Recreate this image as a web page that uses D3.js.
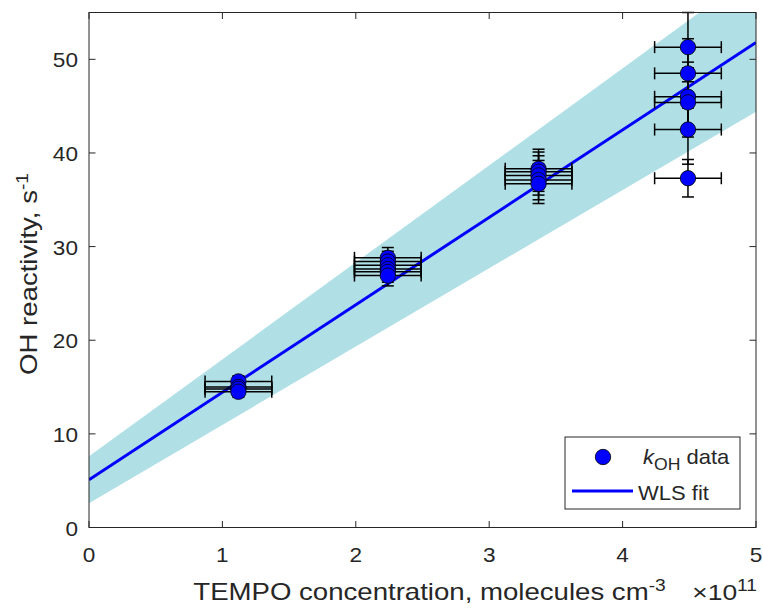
<!DOCTYPE html>
<html><head><meta charset="utf-8">
<script src="https://cdn.jsdelivr.net/npm/d3@7"></script>
<style>body{margin:0;background:#fff}svg{display:block}text{font-family:"Liberation Sans",Arial,sans-serif;fill:#262626}</style>
</head><body><svg id="c" width="763" height="609"></svg>
<script>
// data (x in units of 1e11 molecules cm^-3, y in s^-1)
const dataX    = [1.12,1.12,1.12,1.12, 2.24,2.24,2.24,2.24,2.24,2.24, 3.37,3.37,3.37,3.37,3.37, 4.49,4.49,4.49,4.49,4.49,4.49];
const dataY    = [15.6,15.0,14.8,14.5, 28.8,28.4,28.0,27.6,27.3,26.9, 38.3,38.0,37.6,37.1,36.7, 51.3,48.5,46.0,45.4,42.5,37.3];
const dataYErr = [0.6,0.6,0.6,0.6, 1.1,1.1,1.1,1.1,1.1,1.1, 2.1,2.1,2.1,2.1,2.1, 3.7,3.7,3.7,3.7,3.7,2.0];
const dataXErr = [0.25,0.25,0.25,0.25, 0.25,0.25,0.25,0.25,0.25,0.25, 0.25,0.25,0.25,0.25,0.25, 0.25,0.25,0.25,0.25,0.25,0.25];
const fitX = [0, 5];
const fitY = [5.1, 51.8];
const bandX = [0, 5];
const bandUpper = [7.6, 59.4];
const bandLower = [2.6, 44.4];
const xTicks = [0,1,2,3,4,5];
const yTicks = [0,10,20,30,40,50];

const svg = d3.select("#c");
const L=89, R=756, T=12.5, B=527.5;
const x = d3.scaleLinear().domain([0,5]).range([L,R]);
const y = d3.scaleLinear().domain([0,55]).range([B,T]);

const defs = svg.append("defs");
defs.append("clipPath").attr("id","clip").append("rect").attr("x",L).attr("y",T).attr("width",R-L).attr("height",B-T);

const g = svg.append("g").attr("clip-path","url(#clip)");
const band = bandX.map((v,i)=>({x:v,u:bandUpper[i],l:bandLower[i]}));
g.append("path").datum(band)
  .attr("d", d3.area().x(d=>x(d.x)).y0(d=>y(d.l)).y1(d=>y(d.u)))
  .attr("fill","#b0e0e6");
g.append("path").datum(fitX.map((v,i)=>[v,fitY[i]]))
  .attr("d", d3.line().x(d=>x(d[0])).y(d=>y(d[1])))
  .attr("stroke","#0000ff").attr("stroke-width",3).attr("fill","none");

// error bars
const pts = dataX.map((v,i)=>({x:v,y:dataY[i],ye:dataYErr[i],xe:dataXErr[i]}));
const eb = svg.append("g").attr("stroke","#000").attr("stroke-width",1.5).attr("fill","none");
const cap = 6;
pts.forEach(p=>{
  const cx=x(p.x), cy=y(p.y);
  const y1=y(p.y+p.ye), y2=y(p.y-p.ye);
  const x1=x(p.x-p.xe), x2=x(p.x+p.xe);
  eb.append("line").attr("x1",cx).attr("x2",cx).attr("y1",y1).attr("y2",y2);
  eb.append("line").attr("x1",cx-cap).attr("x2",cx+cap).attr("y1",y1).attr("y2",y1);
  eb.append("line").attr("x1",cx-cap).attr("x2",cx+cap).attr("y1",y2).attr("y2",y2);
  eb.append("line").attr("x1",x1).attr("x2",x2).attr("y1",cy).attr("y2",cy);
  eb.append("line").attr("x1",x1).attr("x2",x1).attr("y1",cy-cap).attr("y2",cy+cap);
  eb.append("line").attr("x1",x2).attr("x2",x2).attr("y1",cy-cap).attr("y2",cy+cap);
});
svg.append("g").selectAll("circle").data(pts).join("circle")
  .attr("cx",d=>x(d.x)).attr("cy",d=>y(d.y)).attr("r",7.7)
  .attr("fill","#0000ff").attr("stroke","#000").attr("stroke-width",0.8);

// axes
const ax = svg.append("g").attr("stroke","#262626").attr("stroke-width",1).attr("fill","none");
ax.append("rect").attr("x",L).attr("y",T).attr("width",R-L).attr("height",B-T);
const tl=6.5;
xTicks.forEach(t=>{
  ax.append("line").attr("x1",x(t)).attr("x2",x(t)).attr("y1",B).attr("y2",B-tl);
  ax.append("line").attr("x1",x(t)).attr("x2",x(t)).attr("y1",T).attr("y2",T+tl);
});
yTicks.forEach(t=>{
  ax.append("line").attr("x1",L).attr("x2",L+tl).attr("y1",y(t)).attr("y2",y(t));
  ax.append("line").attr("x1",R).attr("x2",R-tl).attr("y1",y(t)).attr("y2",y(t));
});
const TS=1.13, LS=1.2;
svg.append("g").selectAll("text").data(xTicks).join("text")
  .attr("transform",d=>`translate(${x(d)},562) scale(${TS},1)`).attr("text-anchor","middle").attr("font-size",20).text(d=>d);
svg.append("g").selectAll("text").data(yTicks).join("text")
  .attr("transform",d=>`translate(78,${y(d)+8}) scale(${TS},1)`).attr("text-anchor","end").attr("font-size",20).text(d=>d);

// axis labels
const xl = svg.append("text").attr("transform",`translate(${(L+R)/2+7},600) scale(${LS},1)`).attr("text-anchor","middle").attr("font-size",23);
xl.append("tspan").text("TEMPO concentration, molecules cm");
xl.append("tspan").attr("dy",-9).attr("font-size",16).text("-3");
const ex = svg.append("text").attr("transform",`translate(757,600) scale(${LS},1)`).attr("text-anchor","end").attr("font-size",22);
ex.append("tspan").text("\u00d710");
ex.append("tspan").attr("dy",-9).attr("font-size",16).text("11");
const yl = svg.append("text").attr("transform",`translate(37,${(T+B)/2+4}) rotate(-90) scale(${LS},1)`).attr("text-anchor","middle").attr("font-size",23);
yl.append("tspan").text("OH reactivity, s");
yl.append("tspan").attr("dy",-9).attr("font-size",16).text("-1");

// legend
const lg = svg.append("g");
lg.append("rect").attr("x",565).attr("y",437).attr("width",175).attr("height",72).attr("fill","#fff").attr("stroke","#262626").attr("stroke-width",1);
lg.append("circle").attr("cx",603).attr("cy",457).attr("r",7.7).attr("fill","#0000ff").attr("stroke","#000").attr("stroke-width",0.8);
const t1 = lg.append("text").attr("transform","translate(643,464) scale(1.1,1)").attr("font-size",20);
t1.append("tspan").attr("font-style","italic").text("k");
t1.append("tspan").attr("dy",6).attr("font-size",16).text("OH");
t1.append("tspan").attr("dy",-6).text(" data");
lg.append("line").attr("x1",572).attr("x2",633).attr("y1",491).attr("y2",491).attr("stroke","#0000ff").attr("stroke-width",3);
lg.append("text").attr("transform","translate(638,500) scale(1.1,1)").attr("font-size",20).text("WLS fit");
</script></body></html>
